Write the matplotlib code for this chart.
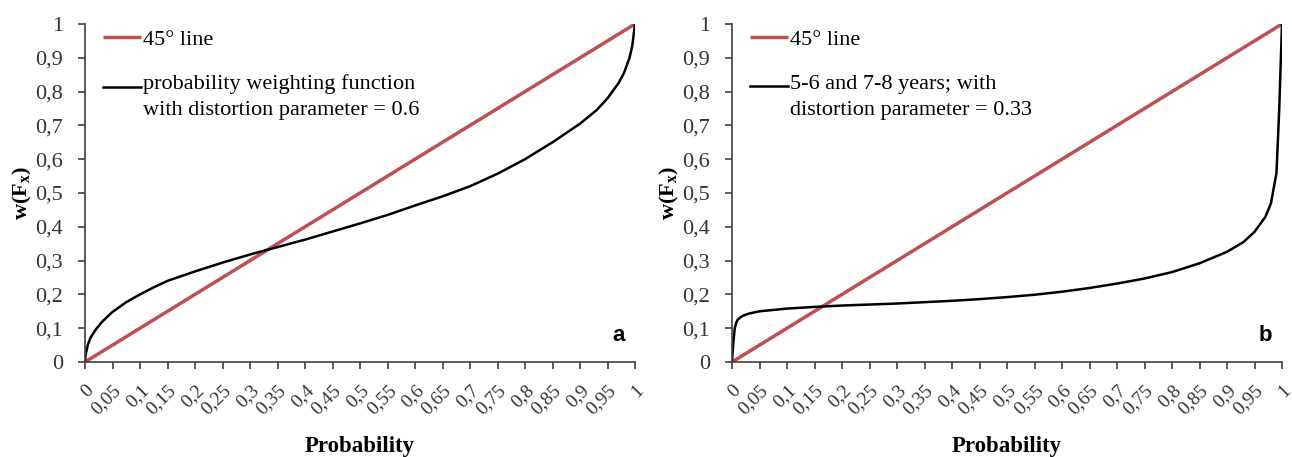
import numpy as np
import matplotlib
matplotlib.use("Agg")
import matplotlib.pyplot as plt
import matplotlib.transforms as mtransforms
from matplotlib.legend_handler import HandlerLine2D

# x axis: probability; y axis: weighted probability w(F_x)
diag_p = [0, 1]
diag_w = [0, 1]

# panel a: probability weighting function, distortion parameter 0.6
pa = [0, 0.001, 0.005, 0.01, 0.02, 0.03, 0.04, 0.05, 0.075, 0.1, 0.125, 0.15, 0.2,
      0.25, 0.3, 0.35, 0.4, 0.45, 0.5, 0.55, 0.6, 0.65, 0.7, 0.75, 0.8, 0.85, 0.9,
      0.93, 0.95, 0.97, 0.98, 0.99, 0.995, 1]
wa = [0, 0.02, 0.05, 0.072, 0.097, 0.117, 0.133, 0.148, 0.177, 0.2, 0.221, 0.24,
      0.268, 0.294, 0.318, 0.34, 0.362, 0.386, 0.41, 0.435, 0.463, 0.49, 0.52, 0.557,
      0.6, 0.65, 0.705, 0.745, 0.78, 0.825, 0.855, 0.9, 0.935, 1]

# panel b: 5-6 and 7-8 years, distortion parameter 0.33
pb = [0, 0.002, 0.005, 0.008, 0.01, 0.015, 0.02, 0.03, 0.05, 0.1, 0.15, 0.2, 0.25,
      0.3, 0.35, 0.4, 0.45, 0.5, 0.55, 0.6, 0.65, 0.7, 0.75, 0.8, 0.85, 0.9, 0.93,
      0.95, 0.97, 0.98, 0.99, 0.995, 1]
wb = [0, 0.05, 0.1, 0.118, 0.124, 0.132, 0.137, 0.143, 0.15, 0.158, 0.163, 0.167,
      0.17, 0.173, 0.177, 0.181, 0.186, 0.192, 0.199, 0.208, 0.219, 0.232, 0.247,
      0.266, 0.292, 0.326, 0.355, 0.385, 0.43, 0.47, 0.56, 0.75, 1]

xticks = np.round(np.arange(0, 1.0001, 0.05), 2)
yticks = np.round(np.arange(0, 1.0001, 0.1), 1)


def fmt(v):
    return ('%g' % v).replace('.', ',')


class TopLineHandler(HandlerLine2D):
    # put the legend line next to the first line of a two-line label
    def create_artists(self, legend, orig_handle, xdescent, ydescent, width,
                       height, fontsize, trans):
        return super().create_artists(legend, orig_handle, xdescent,
                                      ydescent - 0.9 * fontsize, width, height,
                                      fontsize, trans)


panels = [
    dict(p=pa, w=wa, label='probability weighting function\nwith distortion parameter = 0.6',
         tag='a', left=85 / 1292, right=635 / 1292),
    dict(p=pb, w=wb, label='5-6 and 7-8 years; with\ndistortion parameter = 0.33',
         tag='b', left=732 / 1292, right=1282 / 1292),
]

red = '#C0504D'
axis_col = '#404040'
serif = ['Liberation Serif', 'DejaVu Serif']

fig = plt.figure(figsize=(12.92, 4.57), dpi=100)
shift_left = mtransforms.ScaledTranslation(-4 / 72, 0, fig.dpi_scale_trans)

for pnl in panels:
    ax = fig.add_axes([pnl['left'], 95 / 457, pnl['right'] - pnl['left'], 338 / 457])
    ax.plot(diag_p, diag_w, color=red, lw=2.5, label='45° line', solid_capstyle='butt')
    curve, = ax.plot(pnl['p'], pnl['w'], color='black', lw=1.8, label=pnl['label'])
    ax.set_xlim(0, 1)
    ax.set_ylim(0, 1)
    for s in ['top', 'right']:
        ax.spines[s].set_visible(False)
    for s in ['left', 'bottom']:
        ax.spines[s].set_color(axis_col)
        ax.spines[s].set_linewidth(1.2)
    ax.set_xticks(xticks)
    ax.set_yticks(yticks)
    ax.set_xticklabels([fmt(v) for v in xticks], rotation=45, ha='right',
                       rotation_mode='anchor', fontfamily=serif, fontsize=14,
                       color='#333333')
    for lbl in ax.get_xticklabels():
        lbl.set_transform(lbl.get_transform() + shift_left)
    ax.set_yticklabels([fmt(v) for v in yticks], fontfamily=serif, fontsize=16,
                       color='#333333')
    ax.tick_params(axis='both', direction='out', length=5, width=1.2, color=axis_col)
    ax.tick_params(axis='x', pad=9)
    ax.tick_params(axis='y', pad=11)
    ax.set_xlabel('Probability', fontfamily=serif, fontsize=16.5, fontweight='bold',
                  labelpad=13)
    ax.set_ylabel('w(F$_\\mathregular{x}$)', fontfamily=serif, fontsize=16,
                  fontweight='bold', labelpad=1)
    leg = ax.legend(loc='upper left', bbox_to_anchor=(0.017, 1.01), frameon=False,
                    prop={'family': serif, 'size': 16}, handlelength=1.7,
                    handletextpad=0.1, labelspacing=1.1, borderaxespad=0,
                    handler_map={curve: TopLineHandler()})
    for t in leg.get_texts():
        t.set_linespacing(1.5)
    ax.text(0.982, 0.077, pnl['tag'], transform=ax.transAxes, ha='right',
            va='center', fontsize=16, fontweight='bold', fontfamily='Liberation Sans')

fig.savefig('out.png', dpi=100, facecolor='white')
